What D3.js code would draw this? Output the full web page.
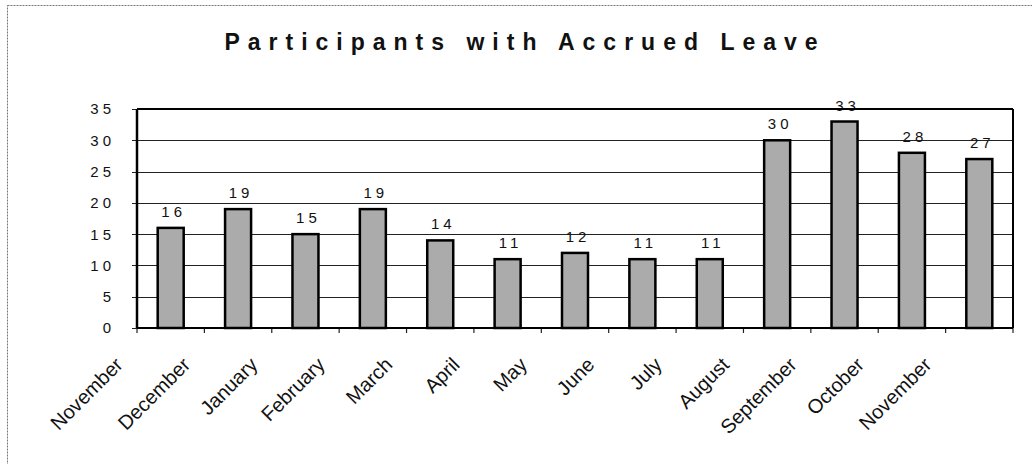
<!DOCTYPE html>
<html>
<head>
<meta charset="utf-8">
<script src="https://cdn.jsdelivr.net/npm/d3@7"></script>
<style>
	body { margin: 0; background: #fff; }
	text { font-family: "Liberation Sans", Arial, sans-serif; fill: #111; }
</style>
</head>
<body>
<svg id="chart" width="1032" height="464"></svg>
<script>

var months = ["November", "December", "January", "February", "March", "April", "May",
	"June", "July", "August", "September", "October", "November"];
var participants = [16, 19, 15, 19, 14, 11, 12, 11, 11, 30, 33, 28, 27];
var yTicks = [0, 5, 10, 15, 20, 25, 30, 35];
var title = "Participants with Accrued Leave";


function drawChart()
{
	var svg = d3.select("#chart");

	var left = 137, right = 1013, top = 109, bottom = 328;

	// outer frame, runs off the page at right and bottom
	svg.append("rect")
		.attr("x", 7.5).attr("y", 5.5)
		.attr("width", 1100).attr("height", 600)
		.attr("fill", "none")
		.attr("stroke", "#777")
		.attr("stroke-width", 1)
		.attr("stroke-dasharray", "2,1");

	svg.append("text")
		.attr("x", 525).attr("y", 50)
		.attr("text-anchor", "middle")
		.attr("font-size", 23)
		.attr("font-weight", "bold")
		.attr("letter-spacing", 8)
		.text(title);

	var x = d3.scaleBand()
		.domain(d3.range(months.length))
		.range([left, right]);

	var y = d3.scaleLinear()
		.domain([0, 35])
		.range([bottom, top]);

	var g = svg.append("g");

	// gridlines
	g.selectAll(".grid")
		.data(yTicks)
		.enter()
		.append("line")
		.attr("x1", left - 5).attr("x2", right)
		.attr("y1", function(d) { return Math.round(y(d)) + 0.5; })
		.attr("y2", function(d) { return Math.round(y(d)) + 0.5; })
		.attr("stroke", "#222")
		.attr("stroke-width", 1);

	// y labels
	g.selectAll(".ylab")
		.data(yTicks)
		.enter()
		.append("text")
		.attr("x", left - 22)
		.attr("y", function(d) { return y(d); })
		.attr("dy", "0.36em")
		.attr("text-anchor", "end")
		.attr("font-size", 15)
		.attr("letter-spacing", 4)
		.text(function(d) { return d; });

	// category ticks
	var xTicks = d3.range(months.length + 1);
	g.selectAll(".xtick")
		.data(xTicks)
		.enter()
		.append("line")
		.attr("x1", function(d) { return left + d * x.step(); })
		.attr("x2", function(d) { return left + d * x.step(); })
		.attr("y1", bottom).attr("y2", bottom + 5)
		.attr("stroke", "#222")
		.attr("stroke-width", 1.2);

	// bars
	var bw = 26;
	g.selectAll(".bar")
		.data(participants)
		.enter()
		.append("rect")
		.attr("x", function(d, i) { return x(i) + x.bandwidth() / 2 - bw / 2; })
		.attr("y", function(d) { return y(d); })
		.attr("width", bw)
		.attr("height", function(d) { return bottom - y(d); })
		.attr("fill", "#ababab")
		.attr("stroke", "#000")
		.attr("stroke-width", 2.5);

	// value labels
	g.selectAll(".val")
		.data(participants)
		.enter()
		.append("text")
		.attr("x", function(d, i) { return x(i) + x.bandwidth() / 2 + 3; })
		.attr("y", function(d) { return y(d) - 11; })
		.attr("text-anchor", "middle")
		.attr("font-size", 15)
		.attr("letter-spacing", 4)
		.text(function(d) { return d; });

	// plot box
	g.append("line")
		.attr("x1", left).attr("x2", left)
		.attr("y1", top).attr("y2", bottom)
		.attr("stroke", "#000").attr("stroke-width", 2.5);
	g.append("line")
		.attr("x1", left).attr("x2", right)
		.attr("y1", top).attr("y2", top)
		.attr("stroke", "#000").attr("stroke-width", 2);
	g.append("line")
		.attr("x1", right).attr("x2", right)
		.attr("y1", top).attr("y2", bottom)
		.attr("stroke", "#000").attr("stroke-width", 2);
	g.append("line")
		.attr("x1", left).attr("x2", right)
		.attr("y1", bottom).attr("y2", bottom)
		.attr("stroke", "#000").attr("stroke-width", 2);

	// month labels, rotated, ending just left of each tick
	g.selectAll(".xlab")
		.data(months)
		.enter()
		.append("text")
		.attr("transform", function(d, i)
		{
			return "translate(" + (left + i * x.step() - 13) + "," + (bottom + 38) + ") rotate(-45)";
		})
		.attr("text-anchor", "end")
		.attr("font-size", 20)
		.text(function(d) { return d; });
}

drawChart();

</script>
</body>
</html>
